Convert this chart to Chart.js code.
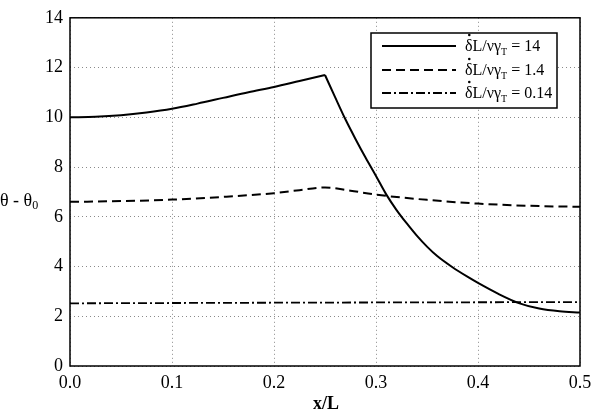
<!DOCTYPE html>
<html>
<head>
<meta charset="utf-8">
<title>Temperature rise along x/L</title>
<script src="https://cdn.jsdelivr.net/npm/chart.js@4/dist/chart.umd.min.js"></script>
<style>
	html, body { margin: 0; padding: 0; background: #fff; }
	#wrap { width: 614px; height: 415px; }
</style>
</head>
<body>
<div id="wrap"><canvas id="thetaChart" width="614" height="415"></canvas></div>
<script>
'use strict';

// Values
// solid curve, rising part up to the kink at x/L = 0.25
var xSolidUp = [0, 0.025, 0.05, 0.075, 0.1, 0.125, 0.15, 0.175, 0.2, 0.225, 0.25];
var ySolidUp = [10.0, 10.02, 10.08, 10.19, 10.34, 10.55, 10.78, 11.01, 11.22, 11.46, 11.7];
// solid curve, falling part after the kink
var xSolidDown = [0.25, 0.26, 0.27, 0.28, 0.29, 0.3, 0.31, 0.32, 0.33, 0.34, 0.35, 0.36,
	0.375, 0.39, 0.4, 0.42, 0.44, 0.46, 0.48, 0.5];
var ySolidDown = [11.7, 10.8, 9.92, 9.12, 8.36, 7.64, 6.9, 6.28, 5.74, 5.24, 4.8, 4.42,
	3.97, 3.58, 3.34, 2.9, 2.53, 2.31, 2.2, 2.15];

var xDashed = [0, 0.05, 0.1, 0.15, 0.2, 0.225, 0.25, 0.275, 0.3, 0.35, 0.4, 0.45, 0.5];
var yDashed = [6.6, 6.63, 6.69, 6.8, 6.95, 7.07, 7.18, 7.05, 6.89, 6.68, 6.53, 6.44, 6.4];

var xDashDot = [0, 0.25, 0.5];
var yDashDot = [2.52, 2.55, 2.57];

var legendValues = ['14', '1.4', '0.14'];
var xTicks = [0, 0.1, 0.2, 0.3, 0.4, 0.5];
var yTicks = [0, 2, 4, 6, 8, 10, 12, 14];

var SERIF = '"Liberation Serif", "DejaVu Serif", serif';

function toPoints(xs, ys) {
	var pts = [];
	for (var i = 0; i < xs.length; i++) {
		pts.push({ x: xs[i], y: ys[i] });
	}
	return pts;
}

var styles = [
	{ dash: [], width: 2 },
	{ dash: [9, 5], width: 2 },
	{ dash: [9, 3, 2, 3], width: 1.8 }
];

/**
 * Frame, axis titles and the boxed legend
 */
var figurePlugin = {
	id: 'figureDecor',
	afterDraw: function(chart) {
		var ctx = chart.ctx;
		var area = chart.chartArea;

		ctx.save();

		// Frame round the plot
		ctx.strokeStyle = '#000';
		ctx.lineWidth = 1.5;
		ctx.setLineDash([]);
		ctx.strokeRect(area.left, area.top, area.right - area.left, area.bottom - area.top);

		// x title
		ctx.fillStyle = '#000';
		ctx.font = 'bold 18px ' + SERIF;
		ctx.textAlign = 'center';
		ctx.textBaseline = 'middle';
		ctx.fillText('x/L', (area.left + area.right) / 2 + 1, 404);

		// y title, horizontal, with subscript 0
		ctx.font = '18px ' + SERIF;
		ctx.textAlign = 'left';
		var tx = 0, ty = 201;
		var main = 'θ - θ';
		ctx.fillText(main, tx, ty);
		var w = ctx.measureText(main).width;
		ctx.font = '12px ' + SERIF;
		ctx.fillText('0', tx + w, ty + 5);

		// Legend box
		var bx = 371, by = 33, bw = 186, bh = 75;
		ctx.fillStyle = '#fff';
		ctx.fillRect(bx, by, bw, bh);
		ctx.strokeStyle = '#000';
		ctx.lineWidth = 1.5;
		ctx.strokeRect(bx, by, bw, bh);

		var rows = [46, 70, 93];
		for (var i = 0; i < rows.length; i++) {
			var ry = rows[i];
			ctx.beginPath();
			ctx.setLineDash(styles[i].dash);
			ctx.lineWidth = styles[i].width;
			ctx.moveTo(382, ry);
			ctx.lineTo(456, ry);
			ctx.stroke();
			ctx.setLineDash([]);

			// label: delta-dot L / nu gamma_T = value
			var x = 465;
			ctx.fillStyle = '#000';
			ctx.font = '16px ' + SERIF;
			ctx.textBaseline = 'middle';
			var part1 = 'δL/νγ';
			ctx.fillText(part1, x, ry + 1);
			var dW = ctx.measureText('δ').width;
			ctx.beginPath();
			ctx.arc(x + dW / 2 + 0.5, ry - 11, 1.3, 0, Math.PI * 2);
			ctx.fill();
			x += ctx.measureText(part1).width;
			ctx.font = '10px ' + SERIF;
			ctx.fillText('T', x, ry + 6);
			x += ctx.measureText('T').width;
			ctx.font = '16px ' + SERIF;
			ctx.fillText(' = ' + legendValues[i], x, ry + 1);
		}

		ctx.restore();
	}
};

var datasets = [
	{ data: toPoints(xSolidUp, ySolidUp), style: 0 },
	{ data: toPoints(xSolidDown, ySolidDown), style: 0 },
	{ data: toPoints(xDashed, yDashed), style: 1 },
	{ data: toPoints(xDashDot, yDashDot), style: 2 }
].map(function(ds) {
	var s = styles[ds.style];
	ds.borderColor = '#000';
	ds.borderWidth = s.width;
	ds.borderDash = s.dash;
	ds.cubicInterpolationMode = 'monotone';
	ds.pointRadius = 0;
	ds.fill = false;
	return ds;
});

var gridStyle = {
	color: '#8a8a8a',
	lineWidth: 1,
	drawTicks: false
};

new Chart(document.getElementById('thetaChart'), {
	type: 'line',
	data: { datasets: datasets },
	plugins: [figurePlugin],
	options: {
		responsive: false,
		animation: false,
		events: [],
		layout: { padding: { top: 12, right: 34, left: 0, bottom: 0 } },
		plugins: {
			legend: { display: false },
			tooltip: { enabled: false }
		},
		scales: {
			x: {
				type: 'linear',
				min: 0,
				max: 0.5,
				afterBuildTicks: function(scale) {
					scale.ticks = xTicks.map(function(v) { return { value: v }; });
				},
				afterFit: function(scale) { scale.height = 49; },
				border: { display: false, dash: [1, 3] },
				grid: gridStyle,
				ticks: {
					padding: 6,
					color: '#000',
					font: { family: SERIF, size: 18 },
					maxRotation: 0,
					callback: function(v) { return v.toFixed(1); }
				}
			},
			y: {
				min: 0,
				max: 14,
				afterBuildTicks: function(scale) {
					scale.ticks = yTicks.map(function(v) { return { value: v }; });
				},
				afterFit: function(scale) { scale.width = 70; },
				border: { display: false, dash: [1, 3] },
				grid: gridStyle,
				ticks: {
					padding: 7,
					color: '#000',
					font: { family: SERIF, size: 18 }
				}
			}
		}
	}
});
</script>
</body>
</html>
